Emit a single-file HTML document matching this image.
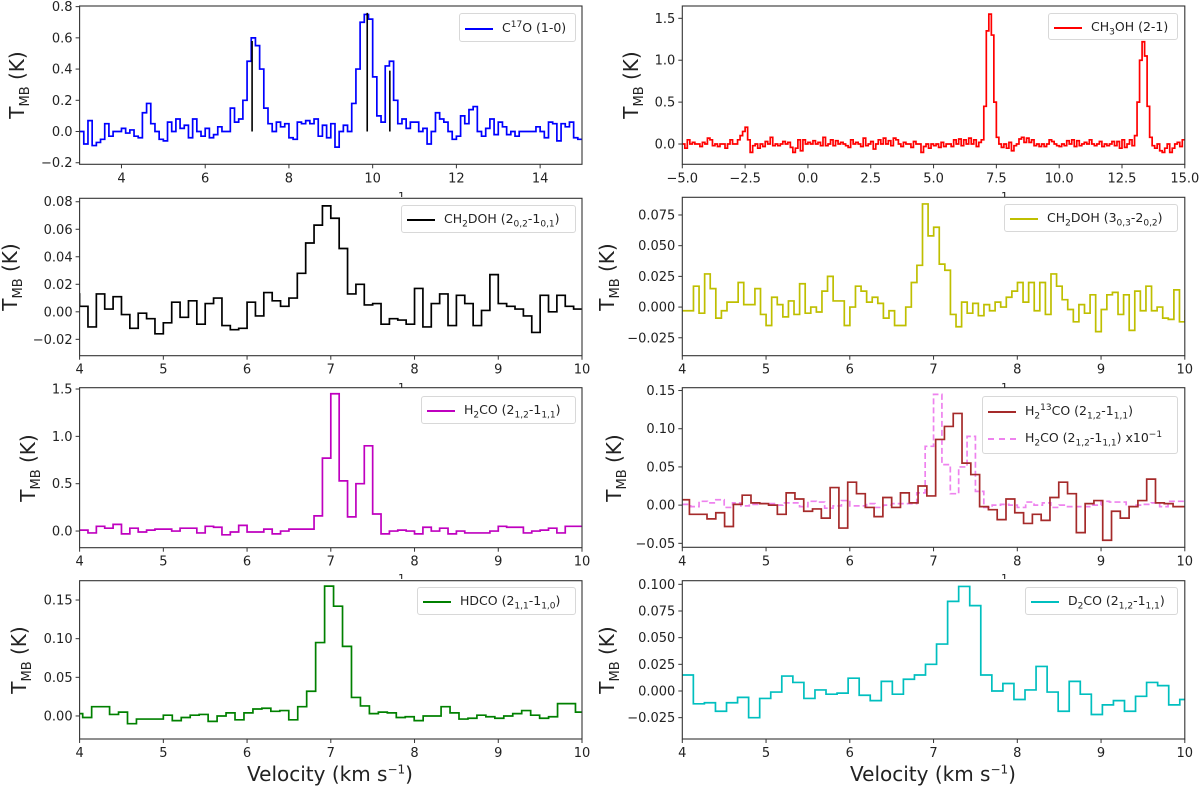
<!DOCTYPE html>
<html><head><meta charset="utf-8">
<style>
html,body{margin:0;padding:0;background:#fff;}
#wrap{position:relative;width:1200px;height:792px;overflow:hidden;font-family:"DejaVu Sans","Liberation Sans",sans-serif;color:#222;}
svg{position:absolute;left:0;top:0;}
.legend{position:absolute;border:1px solid #d8d8d8;border-radius:3px;background:rgba(255,255,255,0.85);font-size:12.5px;box-sizing:border-box;}
.le{position:absolute;left:0;right:0;height:20px;white-space:nowrap;}
.le .sw{position:absolute;left:5px;top:10px;width:28px;height:0;border-top:2px solid #000;}
.le .tx{position:absolute;left:42px;top:2px;}
.le sub,.le sup{font-size:9px;line-height:0;}
.ylab{position:absolute;font-size:20px;transform:translate(-50%,-50%) rotate(-90deg);white-space:nowrap;}
.ylab sub{font-size:13px;}
.xlab{position:absolute;font-size:20px;transform:translateX(-50%);white-space:nowrap;}
.xlab sup{font-size:12px;}
.one{position:absolute;font-size:11px;height:6px;overflow:hidden;line-height:11px;}
</style></head>
<body>
<div id="wrap">
<svg id="fig" width="1200" height="792"></svg>

<div class="legend" style="left:459px;top:13px;width:117px;height:29px"><div class="le" style="top:4px"><div class="sw" style="border-color:#0000ff"></div><span class="tx">C<sup>17</sup>O (1-0)</span></div></div>
<div class="legend" style="left:401px;top:205px;width:175px;height:28px"><div class="le" style="top:3px"><div class="sw" style="border-color:#000"></div><span class="tx">CH<sub>2</sub>DOH (2<sub>0,2</sub>-1<sub>0,1</sub>)</span></div></div>
<div class="legend" style="left:421px;top:396px;width:155px;height:28px"><div class="le" style="top:3px"><div class="sw" style="border-color:#bf00bf"></div><span class="tx">H<sub>2</sub>CO (2<sub>1,2</sub>-1<sub>1,1</sub>)</span></div></div>
<div class="legend" style="left:417px;top:587px;width:159px;height:28px"><div class="le" style="top:3px"><div class="sw" style="border-color:#008000"></div><span class="tx">HDCO (2<sub>1,1</sub>-1<sub>1,0</sub>)</span></div></div>
<div class="legend" style="left:1048px;top:13px;width:130px;height:27px"><div class="le" style="top:3px"><div class="sw" style="border-color:#ff0000"></div><span class="tx">CH<sub>3</sub>OH (2-1)</span></div></div>
<div class="legend" style="left:1004px;top:204px;width:174px;height:28px"><div class="le" style="top:3px"><div class="sw" style="border-color:#bfbf00"></div><span class="tx">CH<sub>2</sub>DOH (3<sub>0,3</sub>-2<sub>0,2</sub>)</span></div></div>
<div class="legend" style="left:982px;top:396px;width:196px;height:58px">
 <div class="le" style="top:4px"><div class="sw" style="border-color:#a52a2a"></div><span class="tx">H<sub>2</sub><sup>13</sup>CO (2<sub>1,2</sub>-1<sub>1,1</sub>)</span></div>
 <div class="le" style="top:31px"><div class="sw" style="border-top:2px dashed #ee82ee"></div><span class="tx">H<sub>2</sub>CO (2<sub>1,2</sub>-1<sub>1,1</sub>) x10<sup>−1</sup></span></div>
</div>
<div class="legend" style="left:1025px;top:587px;width:153px;height:28px"><div class="le" style="top:3px"><div class="sw" style="border-color:#00bfbf"></div><span class="tx">D<sub>2</sub>CO (2<sub>1,2</sub>-1<sub>1,1</sub>)</span></div></div>

<div class="ylab" style="left:19px;top:85px">T<sub>MB</sub> (K)</div>
<div class="ylab" style="left:12px;top:277px">T<sub>MB</sub> (K)</div>
<div class="ylab" style="left:30px;top:468px">T<sub>MB</sub> (K)</div>
<div class="ylab" style="left:21px;top:660px">T<sub>MB</sub> (K)</div>
<div class="ylab" style="left:633px;top:85px">T<sub>MB</sub> (K)</div>
<div class="ylab" style="left:609px;top:277px">T<sub>MB</sub> (K)</div>
<div class="ylab" style="left:616px;top:468px">T<sub>MB</sub> (K)</div>
<div class="ylab" style="left:609px;top:660px">T<sub>MB</sub> (K)</div>

<div class="xlab" style="left:330px;top:762px">Velocity (km s<sup>−1</sup>)</div>
<div class="xlab" style="left:933px;top:762px">Velocity (km s<sup>−1</sup>)</div>
<div class="one" style="left:398px;top:191px">1</div>
<div class="one" style="left:398px;top:382px">1</div>
<div class="one" style="left:398px;top:573px">1</div>
<div class="one" style="left:1001px;top:191px">1</div>
<div class="one" style="left:1001px;top:382px">1</div>
<div class="one" style="left:1001px;top:573px">1</div>
</div>

<script>
// ---- data ----
const c17oStart = 3.0, c17oWidth = 0.1;
const c17oValues = [0.0,-0.08,0.07,-0.09,-0.07,-0.05,0.05,-0.03,0.0,0.0,
 0.02,-0.01,0.01,-0.03,-0.04,0.12,0.18,0.05,0.0,-0.05,
 -0.06,0.06,0.0,0.08,0.02,0.04,-0.04,0.08,0.0,-0.03,
 0.02,-0.04,-0.02,0.03,0.0,0.0,0.15,0.06,0.08,0.2,
 0.45,0.6,0.55,0.4,0.15,0.05,0.0,0.06,0.03,0.05,
 -0.04,-0.05,0.06,0.05,0.07,0.05,0.08,-0.03,0.04,-0.04,
 0.05,-0.1,0.0,0.04,0.0,0.18,0.4,0.7,0.75,0.72,
 0.35,0.1,0.06,0.42,0.45,0.2,0.05,0.08,0.02,0.06,
 0.06,0.0,0.02,-0.08,0.0,0.12,0.08,0.06,0.0,-0.05,
 -0.03,0.1,0.05,0.14,0.16,0.0,-0.03,0.02,0.08,-0.02,
 0.06,0.03,-0.02,0.0,-0.03,0.0,0.0,0.0,0.0,0.03,
 0.0,-0.04,0.06,0.05,-0.06,0.05,0.03,0.06,-0.04,-0.05];
const c17oLineV = [7.12, 9.87, 10.41];
const c17oLineH = [0.58, 0.76, 0.39];

const ch3ohStart = -5.0, ch3ohWidth = 0.1;
const ch3ohValues = [0.0,-0.05,0.05,0.0,0.02,0.0,0.0,-0.03,0.02,0.0,
 0.07,0.05,-0.02,0.0,-0.03,0.0,0.0,-0.05,0.0,0.05,
 0.0,0.0,0.05,0.1,0.15,0.2,0.05,-0.1,-0.02,0.0,
 -0.05,0.0,-0.03,0.03,0.0,0.08,-0.02,0.0,-0.02,0.0,
 0.03,0.0,0.02,-0.04,-0.1,-0.05,0.05,-0.08,0.05,0.0,
 0.02,0.0,0.04,0.0,0.02,-0.02,0.08,-0.02,0.0,0.05,
 -0.02,0.04,0.0,0.02,0.0,-0.02,-0.04,0.05,0.0,0.02,
 0.0,-0.03,0.07,-0.02,0.0,0.03,-0.06,0.0,0.05,0.0,
 0.07,0.0,0.04,-0.02,0.07,0.05,0.0,-0.03,0.02,0.0,
 0.0,-0.04,0.03,0.0,0.0,-0.1,-0.03,0.0,-0.05,0.0,
 -0.02,0.0,-0.04,0.02,-0.03,0.0,0.0,-0.03,0.05,0.0,
 0.06,-0.02,0.05,0.0,0.07,0.0,0.05,-0.03,0.02,0.05,
 0.45,1.35,1.55,1.3,0.5,0.08,0.0,-0.04,0.0,-0.05,
 0.02,-0.08,-0.02,0.0,0.06,0.08,0.02,0.07,0.02,0.05,
 -0.02,0.0,-0.03,0.0,-0.03,0.0,0.05,0.03,0.0,-0.02,
 -0.03,0.0,-0.02,0.04,0.0,0.05,-0.03,0.04,-0.02,0.0,
 0.02,0.0,0.05,0.0,-0.02,0.0,0.03,-0.03,0.0,-0.02,
 0.0,0.03,-0.02,0.03,-0.05,0.05,-0.04,0.0,0.05,-0.02,
 0.1,0.5,1.0,1.22,1.05,0.45,0.08,-0.02,-0.05,0.0,
 -0.08,-0.1,-0.05,0.0,-0.1,-0.05,0.0,0.02,-0.03,0.05];

const ch2doh202Start = 3.9, ch2doh202Width = 0.1;
const ch2doh202Values = [0.013,0.004,-0.011,0.013,0.002,0.011,-0.002,-0.012,-0.001,-0.005,
 -0.016,-0.008,0.007,-0.004,0.008,-0.009,0.006,0.01,-0.01,-0.013,
 -0.012,0.007,-0.003,0.014,0.008,0.004,0.01,0.028,0.05,0.063,
 0.077,0.068,0.046,0.013,0.02,0.005,0.006,-0.009,-0.005,-0.006,
 -0.009,0.017,-0.011,0.006,0.013,-0.01,0.012,0.006,-0.01,0.001,
 0.027,0.006,0.004,0.002,-0.003,-0.015,0.012,0.0,0.012,0.004,0.002];

const ch2doh303Start = 4.0, ch2doh303Width = 0.0667;
const ch2doh303Values = [-0.003,-0.003,0.017,-0.005,0.027,0.015,-0.009,-0.003,0.004,
 0.004,0.02,0.002,0.002,0.015,-0.006,-0.015,0.008,0.002,
 -0.008,0.005,-0.006,0.019,-0.005,0.0,-0.004,0.013,0.025,
 0.005,0.005,-0.015,0.0,0.017,0.013,0.004,0.008,0.003,
 -0.009,-0.003,-0.015,-0.015,0.0,0.02,0.034,0.084,0.058,
 0.065,0.035,0.03,-0.006,-0.016,0.004,-0.005,0.003,-0.007,
 0.002,-0.003,0.004,0.0,0.008,0.013,0.02,0.004,0.02,
 -0.003,0.02,-0.006,0.027,0.017,0.006,-0.002,-0.012,0.002,
 -0.005,0.01,-0.02,-0.002,0.01,0.012,-0.006,0.01,-0.019,
 0.013,-0.003,0.017,-0.003,0.0,-0.009,-0.01,0.014,-0.012,-0.003];

const h2coStart = 4.0, h2coWidth = 0.1;
const h2coValues = [0.01,-0.02,0.05,0.03,0.07,-0.03,0.03,-0.01,0.01,0.02,
 0.02,0.0,0.03,0.03,-0.02,0.05,0.04,-0.04,-0.01,0.06,
 -0.01,-0.01,0.02,-0.03,0.0,0.02,0.02,0.02,0.16,0.77,
 1.45,0.53,0.15,0.5,0.9,0.18,-0.03,0.0,0.01,0.0,
 -0.03,0.04,0.0,0.03,-0.03,0.0,-0.02,-0.02,-0.02,0.0,
 0.05,0.04,0.04,-0.02,0.0,0.01,0.03,-0.02,0.05,0.05];
const h2coScale = 0.1;

const h213coStart = 3.98, h213coWidth = 0.105;
const h213coValues = [0.007,-0.012,-0.012,-0.018,-0.01,-0.028,0.001,0.013,0.003,0.002,
 0.0,-0.012,0.016,0.008,-0.008,-0.005,-0.017,0.023,-0.03,0.03,
 0.015,-0.003,-0.015,0.01,-0.003,0.016,0.003,0.025,0.012,0.086,
 0.103,0.12,0.055,0.04,-0.002,-0.006,-0.019,0.008,-0.01,-0.024,
 -0.012,-0.02,0.01,0.03,0.015,-0.036,0.002,0.006,-0.046,-0.008,
 -0.017,-0.002,0.006,0.034,0.003,0.002,-0.002,-0.002];

const hdcoStart = 3.93, hdcoWidth = 0.107;
const hdcoValues = [0.003,-0.002,0.012,0.012,0.002,0.005,-0.01,-0.004,-0.004,-0.004,
 0.001,-0.006,-0.002,0.001,0.002,-0.007,0.0,0.004,-0.005,0.004,
 0.009,0.01,0.006,0.007,-0.005,
 0.012,0.032,0.095,0.168,0.142,0.09,
 0.024,0.013,0.003,0.005,0.004,-0.002,-0.001,-0.006,0.0,0.0,
 0.012,0.004,-0.004,-0.003,0.001,-0.001,-0.003,0.0,0.003,0.007,0.001,-0.003,-0.001,0.016,0.016,0.005];

const d2coStart = 4.0, d2coWidth = 0.132;
const d2coValues = [0.015,-0.012,-0.011,-0.019,-0.011,-0.006,-0.025,-0.007,-0.001,0.014,
 0.008,-0.007,0.001,-0.003,-0.002,0.012,-0.004,-0.009,0.009,-0.003,
 0.011,0.015,0.025,0.044,0.084,0.098,0.08,0.015,0.0,0.007,
 -0.008,0.001,0.023,-0.001,-0.019,0.009,-0.003,-0.022,-0.013,-0.009,
 -0.019,-0.005,0.008,0.005,-0.013,-0.008];

// ---- tick arrays ----
const ticksL1x = [4,6,8,10,12,14];
const ticksL1y = [-0.2,0.0,0.2,0.4,0.6,0.8];
const labelsL1y = ["−0.2","0.0","0.2","0.4","0.6","0.8"];
const ticks6x = [4,5,6,7,8,9,10];
const ticksL2y = [-0.02,0,0.02,0.04,0.06,0.08];
const labelsL2y = ["−0.02","0.00","0.02","0.04","0.06","0.08"];
const ticksL3y = [0,0.5,1.0,1.5];
const labelsL3y = ["0.0","0.5","1.0","1.5"];
const ticksL4y = [0,0.05,0.10,0.15];
const labelsL4y = ["0.00","0.05","0.10","0.15"];
const ticksR1x = [-5,-2.5,0,2.5,5,7.5,10,12.5,15];
const labelsR1x = ["−5.0","−2.5","0.0","2.5","5.0","7.5","10.0","12.5","15.0"];
const ticksR1y = [0,0.5,1.0,1.5];
const labelsR1y = ["0.0","0.5","1.0","1.5"];
const ticksR2y = [-0.025,0,0.025,0.05,0.075];
const labelsR2y = ["−0.025","0.000","0.025","0.050","0.075"];
const ticksR3y = [-0.05,0,0.05,0.10,0.15];
const labelsR3y = ["−0.05","0.00","0.05","0.10","0.15"];
const ticksR4y = [-0.025,0,0.025,0.05,0.075,0.1];
const labelsR4y = ["−0.025","0.000","0.025","0.050","0.075","0.100"];

// ---- layout ----
const LX0 = 79.6, LX1 = 582, RX0 = 682.3, RX1 = 1184.8;
const panels = [
 {name:'c17o', x0:LX0,x1:LX1,y0:6,y1:164.3,xmin:3,xmax:15,ymin:-0.21,ymax:0.804,xt:ticksL1x,xl:ticksL1x.map(String),yt:ticksL1y,yl:labelsL1y},
 {name:'ch2doh-202', x0:LX0,x1:LX1,y0:198.3,y1:355.7,xmin:4,xmax:10,ymin:-0.0319,ymax:0.0825,xt:ticks6x,xl:ticks6x.map(String),yt:ticksL2y,yl:labelsL2y},
 {name:'h2co', x0:LX0,x1:LX1,y0:387.7,y1:547.7,xmin:4,xmax:10,ymin:-0.176,ymax:1.514,xt:ticks6x,xl:ticks6x.map(String),yt:ticksL3y,yl:labelsL3y},
 {name:'hdco', x0:LX0,x1:LX1,y0:580.7,y1:739,xmin:4,xmax:10,ymin:-0.0298,ymax:0.175,xt:ticks6x,xl:ticks6x.map(String),yt:ticksL4y,yl:labelsL4y},
 {name:'ch3oh', x0:RX0,x1:RX1,y0:6,y1:164.3,xmin:-5,xmax:15,ymin:-0.242,ymax:1.647,xt:ticksR1x,xl:labelsR1x,yt:ticksR1y,yl:labelsR1y},
 {name:'ch2doh-303', x0:RX0,x1:RX1,y0:197.3,y1:355.7,xmin:4,xmax:10,ymin:-0.0396,ymax:0.0894,xt:ticks6x,xl:ticks6x.map(String),yt:ticksR2y,yl:labelsR2y},
 {name:'h213co', x0:RX0,x1:RX1,y0:387.7,y1:547.3,xmin:4,xmax:10,ymin:-0.0552,ymax:0.1537,xt:ticks6x,xl:ticks6x.map(String),yt:ticksR3y,yl:labelsR3y},
 {name:'d2co', x0:RX0,x1:RX1,y0:580.7,y1:739,xmin:4,xmax:10,ymin:-0.045,ymax:0.1034,xt:ticks6x,xl:ticks6x.map(String),yt:ticksR4y,yl:labelsR4y}
];
const NS = 'http://www.w3.org/2000/svg';
const svg = document.getElementById('fig');
function xs(p,v){return p.x0+(v-p.xmin)/(p.xmax-p.xmin)*(p.x1-p.x0);}
function ys(p,v){return p.y1-(v-p.ymin)/(p.ymax-p.ymin)*(p.y1-p.y0);}
function mk(tag,attrs,parent){const e=document.createElementNS(NS,tag);for(const k in attrs)e.setAttribute(k,attrs[k]);(parent||svg).appendChild(e);return e;}

const defs = mk('defs',{});
panels.forEach((p,i)=>{
  const cp = mk('clipPath',{id:'clip'+i},defs);
  mk('rect',{x:p.x0,y:p.y0,width:p.x1-p.x0,height:p.y1-p.y0},cp);
  const g = mk('g',{});
  
  
  p.g = g;
  p.plot = mk('g',{'clip-path':'url(#clip'+i+')'},g);
});

function stepPath(p,start,width,vals,scale){
  let d='';
  vals.forEach((v,k)=>{
    const xa=xs(p,start+k*width), xb=xs(p,start+(k+1)*width), y=ys(p,v*scale);
    d += (k===0?'M'+xa.toFixed(2)+' '+y.toFixed(2):'V'+y.toFixed(2))+'H'+xb.toFixed(2);
  });
  return d;
}
function drawSeries(pi,start,width,vals,color,name,dash,scale){
  const p=panels[pi];
  const el = mk('path',{d:stepPath(p,start,width,vals,scale||1),fill:'none',stroke:color,'stroke-width':1.7,'stroke-linejoin':'miter'},p.plot);
  if(dash) el.setAttribute('stroke-dasharray',dash);
  
  
}
drawSeries(0,c17oStart,c17oWidth,c17oValues,'#0000ff','series-c17o');
c17oLineV.forEach((v,k)=>{
  const p=panels[0];
  const ln = mk('line',{x1:xs(p,v),x2:xs(p,v),y1:ys(p,0),y2:ys(p,c17oLineH[k]),stroke:'#000','stroke-width':1.6},p.plot);
  
  
});
drawSeries(1,ch2doh202Start,ch2doh202Width,ch2doh202Values,'#000000','series-ch2doh-202');
drawSeries(2,h2coStart,h2coWidth,h2coValues,'#bf00bf','series-h2co');
drawSeries(3,hdcoStart,hdcoWidth,hdcoValues,'#008000','series-hdco');
drawSeries(4,ch3ohStart,ch3ohWidth,ch3ohValues,'#ff0000','series-ch3oh');
drawSeries(5,ch2doh303Start,ch2doh303Width,ch2doh303Values,'#bfbf00','series-ch2doh-303');
drawSeries(6,h2coStart,h2coWidth,h2coValues,'#ee82ee','series-h2co-scaled','6,3',h2coScale);
drawSeries(6,h213coStart,h213coWidth,h213coValues,'#a52a2a','series-h213co');
drawSeries(7,d2coStart,d2coWidth,d2coValues,'#00bfbf','series-d2co');

panels.forEach(p=>{
  const fr = mk('rect',{x:p.x0,y:p.y0,width:p.x1-p.x0,height:p.y1-p.y0,fill:'none',stroke:'#333','stroke-width':1.1},p.g);
  
  
  p.xt.forEach((v,k)=>{
    const x=xs(p,v);
    mk('line',{x1:x,x2:x,y1:p.y1,y2:p.y1+4,stroke:'#333','stroke-width':1},p.g);
    const t=mk('text',{x:x,y:p.y1+18,'text-anchor':'middle','font-size':13,fill:'#222','font-family':'DejaVu Sans, Liberation Sans, sans-serif'},p.g);
    t.textContent=p.xl[k];
    
    
  });
  p.yt.forEach((v,k)=>{
    const y=ys(p,v);
    mk('line',{x1:p.x0-4,x2:p.x0,y1:y,y2:y,stroke:'#333','stroke-width':1},p.g);
    const t=mk('text',{x:p.x0-7,y:y+4.5,'text-anchor':'end','font-size':13,fill:'#222','font-family':'DejaVu Sans, Liberation Sans, sans-serif'},p.g);
    t.textContent=p.yl[k];
    
    
  });
});
</script>
</body></html>
